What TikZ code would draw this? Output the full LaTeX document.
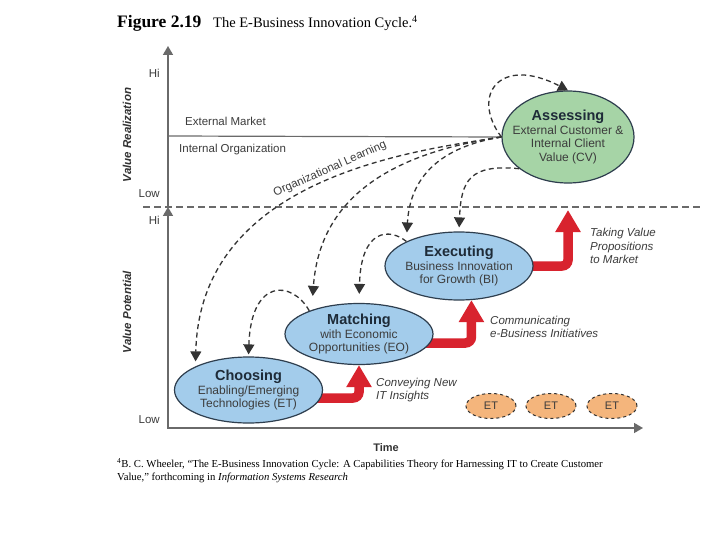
\documentclass[tikz,border=0pt]{standalone}
\usepackage{fontspec}
\setmainfont{Liberation Serif}
\setsansfont{Liberation Sans}
\usetikzlibrary{shapes.geometric,arrows.meta,backgrounds}
\definecolor{ebblue}{HTML}{A3CCEB}
\definecolor{ebgreen}{HTML}{A6D4A6}
\definecolor{eborange}{HTML}{F4B57C}
\definecolor{ebred}{HTML}{D8232E}
\definecolor{ebline}{HTML}{333333}
\definecolor{ebaxis}{HTML}{6A6A6A}
\definecolor{ebtext}{HTML}{3C3C3C}
\definecolor{ebborder}{HTML}{2E3E4E}
\definecolor{ebtitle}{HTML}{1E2B38}
\begin{document}
\begin{tikzpicture}[x=1pt,y=-1pt,
  phase/.style={ellipse, draw=ebborder, line width=1.2pt, fill=ebblue,
    inner xsep=-15pt, inner ysep=-6pt, minimum width=148pt, align=center,
    text=ebtext, font=\sffamily\fontsize{12}{13.8}\selectfont},
  etnode/.style={ellipse, draw=ebline, dashed, line width=1pt, fill=eborange,
    minimum width=50pt, minimum height=25pt, inner sep=0pt, text=ebtext,
    font=\sffamily\fontsize{11}{13}\selectfont},
  lbl/.style={inner sep=0pt, text=ebtext, font=\sffamily\fontsize{11.5}{13.5}\selectfont},
  axlbl/.style={inner sep=0pt, text=ebline, font=\sffamily\bfseries\itshape\fontsize{11.5}{13.5}\selectfont},
  note/.style={inner sep=0pt, align=left, text=ebtext, font=\sffamily\itshape\fontsize{11.5}{13.6}\selectfont},
  axisline/.style={draw=ebaxis, line width=1.6pt, line join=miter},
  flow/.style={draw=ebline, line width=1.3pt, dash pattern=on 5pt off 3.5pt,
    -{Triangle[length=10pt,width=11pt]}},
  redarrow/.style={draw=ebred, line width=9.5pt, rounded corners=6pt,
    -{Triangle[length=22pt,width=24pt]}}
]
\useasboundingbox (0,0) rectangle (720,540);

% title
\node[anchor=base west, inner sep=0pt, font=\bfseries\fontsize{17.5}{20}\selectfont] (fig) at (117,28) {Figure 2.19};
\node[anchor=base west, inner sep=0pt, font=\fontsize{14.5}{17}\selectfont] (cap) at (213,28) {The E-Business Innovation Cycle.\textsuperscript{4}};

% axes
\coordinate (O) at (168,428);
\coordinate (vmid) at (168,207);
\coordinate (vtop) at (168,46);
\coordinate (haxend) at (643,428);
\coordinate (dl) at (143,207);
\coordinate (dr) at (700,207);
\coordinate (sl) at (168,136);
\coordinate (mkt) at (568,210);

\draw[axisline, {Triangle[length=9pt,width=10pt]}-{Triangle[length=9pt,width=10pt]}] (vmid) -- (O) -- (haxend);
\draw[axisline, -{Triangle[length=9pt,width=10pt]}] (vmid) -- (vtop);
\draw[draw=ebaxis, line width=1.2pt, dash pattern=on 7pt off 4pt] (dl) -- (dr);

% ellipses
\node[phase, fill=ebgreen, inner xsep=-20pt, minimum width=132pt, minimum height=92pt] (assess) at (568,137)
  {{\fontsize{14.5}{13.6}\selectfont\bfseries\color{ebtitle}Assessing}\\External Customer \&\\Internal Client\\Value (CV)};
\node[phase, minimum height=68pt] (exec) at (459,266)
  {{\fontsize{14.5}{13.8}\selectfont\bfseries\color{ebtitle}Executing}\\Business Innovation\\for Growth (BI)};
\node[phase, minimum height=61pt] (match) at (359,334)
  {{\fontsize{14.5}{13.8}\selectfont\bfseries\color{ebtitle}Matching}\\with Economic\\Opportunities (EO)};
\node[phase, minimum height=66pt] (choose) at (248.5,390)
  {{\fontsize{14.5}{13.8}\selectfont\bfseries\color{ebtitle}Choosing}\\Enabling/Emerging\\Technologies (ET)};

\node[etnode] (et1) at (491,406) {ET};
\node[etnode] (et2) at (551,406) {ET};
\node[etnode] (et3) at (612,406) {ET};

% solid separator
\draw[draw=ebaxis, line width=1.2pt] (sl) -- (assess.west);

% labels
\node[lbl, anchor=base east] (hi1) at (160,78) {Hi};
\node[lbl, anchor=base east] (low1) at (160,198) {Low};
\node[lbl, anchor=base east] (hi2) at (160,225) {Hi};
\node[lbl, anchor=base east] (low2) at (160,423) {Low};
\node[lbl, anchor=base west] (extm) at (185,126) {External Market};
\node[lbl, anchor=base west] (into) at (179,153) {Internal Organization};
\node[axlbl, rotate=90] (vr) at (127,135) {Value Realization};
\node[axlbl, rotate=90] (vp) at (127,312) {Value Potential};
\node[axlbl, font=\sffamily\bfseries\fontsize{11}{13}\selectfont] (time) at (386,448) {Time};
\node[lbl, rotate=23.9] (orgl) at (330,169) {Organizational Learning};
\node[note, anchor=north west] (n1) at (376,377.7) {Conveying New\\IT Insights};
\node[note, anchor=north west] (n2) at (490,315.7) {Communicating\\e-Business Initiatives};
\node[note, anchor=north west] (n3) at (590,228) {Taking Value\\Propositions\\to Market};

% footnote
\node[anchor=base west, inner sep=0pt, font=\fontsize{10.7}{13}\selectfont] (fn1) at (117,467)
  {\textsuperscript{4}B. C. Wheeler, ``The E-Business Innovation Cycle: A Capabilities Theory for Harnessing IT to Create Customer};
\node[anchor=base west, inner sep=0pt, font=\fontsize{10.7}{13}\selectfont] (fn2) at (117,480.5)
  {Value,'' forthcoming in \textit{Information Systems Research}};

% dashed flows
\draw[flow] (assess.west) .. controls (470,95) and (500,55) .. (assess.north);
\draw[flow, shorten >=5pt] (assess.west) .. controls (420,150) and (200,175) .. (choose.156);
\draw[flow, shorten >=14pt] (assess.west) .. controls (400,152) and (320,192) .. (match.153);
\draw[flow, shorten >=9pt] (assess.west) .. controls (440,147) and (410,177) .. (exec.155);
\draw[flow, shorten >=4pt] (assess.213) .. controls (470,164) and (461,180) .. (exec.north);
\draw[flow, shorten >=9pt] (exec.155) .. controls (390,228) and (361,228) .. (match.north);
\draw[flow, shorten >=2pt] (match.155) .. controls (292,280) and (251,278) .. (choose.north);

% red arrows behind the ellipses
\begin{scope}[on background layer]
\fill[white] (0,0) rectangle (720,540);
\draw[redarrow] ([yshift=-8pt]choose.center) -| (match.south);
\draw[redarrow] ([yshift=-9pt]match.center) -| (exec.-70);
\draw[redarrow] (exec.center) -| (mkt);
\end{scope}
\end{tikzpicture}
\end{document}
